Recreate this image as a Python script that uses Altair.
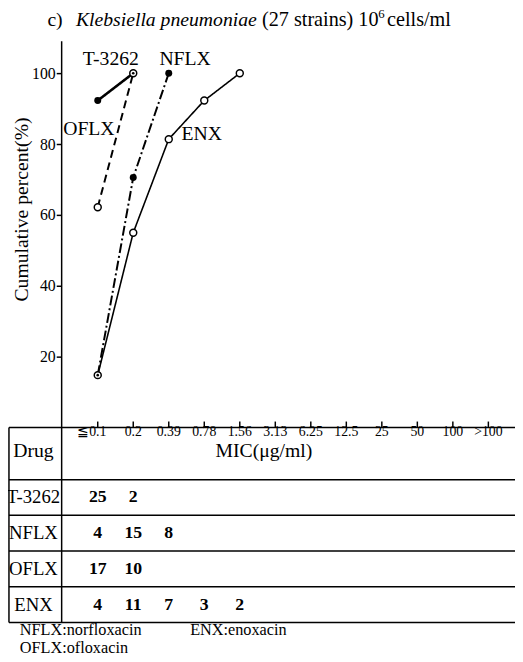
import altair as alt
import pandas as pd

# ---------------- data ----------------
mic_labels = ["≦0.1", "0.2", "0.39", "0.78", "1.56", "3.13", "6.25",
              "12.5", "25", "50", "100", ">100"]
drugs = ["T-3262", "NFLX", "OFLX", "ENX"]

counts_t3262 = [25, 2]
counts_nflx = [4, 15, 8]
counts_oflx = [17, 10]
counts_enx = [4, 11, 7, 3, 2]

pct_t3262 = [92.3, 100]
pct_nflx = [14.8, 70.6, 100]
pct_oflx = [62.2, 100]
pct_enx = [14.8, 55.0, 81.4, 92.3, 100]

y_ticks = [20, 40, 60, 80, 100]

counts = {"T-3262": counts_t3262, "NFLX": counts_nflx,
          "OFLX": counts_oflx, "ENX": counts_enx}
pcts = {"T-3262": pct_t3262, "NFLX": pct_nflx,
        "OFLX": pct_oflx, "ENX": pct_enx}

# ---------------- styles ----------------
FONT = "Liberation Serif"
line_style = {
    "T-3262": dict(dash=[1, 0], width=2.6, filled=True),
    "NFLX": dict(dash=[10, 3, 2, 3], width=2.0, filled=True),
    "OFLX": dict(dash=[8, 5], width=2.0, filled=False),
    "ENX": dict(dash=[1, 0], width=1.6, filled=False),
}
# label anchor positions (data units)
label_pos = {
    "T-3262": (0.37, 104.0),
    "NFLX": (2.46, 104.0),
    "OFLX": (-0.25, 84.2),
    "ENX": (2.93, 82.8),
}

X_MIN, X_MAX = -1.03, 11.75
Y_MIN, Y_MAX = -55.0, 109.2
TABLE_LEFT = -2.50
ROWNAME_X = -1.81
HEADER_BOTTOM = -14.7
ROW_H = (-HEADER_BOTTOM + Y_MIN) / -4.0  # positive row height

xs = alt.Scale(domain=[X_MIN, X_MAX], nice=False, zero=False)
ys = alt.Scale(domain=[Y_MIN, Y_MAX], nice=False, zero=False)

y_axis = alt.Axis(
    values=y_ticks, tickSize=5, tickWidth=1.5, tickColor="black",
    labelPadding=1, labelFont=FONT, labelFontSize=16,
    labelColor="black", domainColor="black", domainWidth=1.5,
    grid=False, title="Cumulative percent(%)", titleFont=FONT,
    titleFontSize=20, titleFontWeight="normal", titleColor="black",
    titleX=-40, titleY=171, titleAngle=270, titleAlign="center",
    titleBaseline="middle")


def X(f="x"):
    return alt.X(f, type="quantitative", scale=xs, axis=None)


def Y(f="y"):
    return alt.Y(f, type="quantitative", scale=ys, axis=y_axis)


layers = []

# table rules
h_lines = [0.0, HEADER_BOTTOM] + [HEADER_BOTTOM - ROW_H * (k + 1) for k in range(4)]
rules = [dict(x=TABLE_LEFT, x2=X_MAX, y=v, y2=v) for v in h_lines]
rules.append(dict(x=TABLE_LEFT, x2=TABLE_LEFT, y=0.0, y2=Y_MIN))
rules_df = pd.DataFrame(rules)
layers.append(
    alt.Chart(rules_df).mark_rule(color="black", strokeWidth=1.5).encode(
        x=X(), x2="x2", y=Y(), y2="y2")
)

# x ticks (pointing up) and labels
tick_df = pd.DataFrame({"x": list(range(len(mic_labels))),
                        "y": [0.0] * len(mic_labels),
                        "y2": [1.7] * len(mic_labels),
                        "lab": mic_labels})
layers.append(
    alt.Chart(tick_df).mark_rule(color="black", strokeWidth=1.5).encode(
        x=X(), y=Y(), y2="y2")
)
layers.append(
    alt.Chart(tick_df.iloc[:1]).mark_text(
        font=FONT, fontSize=14, baseline="middle", align="center", dy=5,
        dx=-6, color="black").encode(x=X(), y=Y(), text="lab")
)
layers.append(
    alt.Chart(tick_df.iloc[1:]).mark_text(
        font=FONT, fontSize=14, baseline="middle", align="center", dy=5,
        color="black").encode(x=X(), y=Y(), text="lab")
)

# header texts
hdr_df = pd.DataFrame({"x": [4.68, ROWNAME_X], "y": [-6.5, -6.5],
                       "t": ["MIC(μg/ml)", "Drug"]})
layers.append(
    alt.Chart(hdr_df).mark_text(font=FONT, fontSize=20, baseline="middle",
                                align="center", color="black").encode(
        x=X(), y=Y(), text="t")
)

# row names and counts
row_rows, cnt_rows = [], []
for r, d in enumerate(drugs):
    yc = HEADER_BOTTOM - ROW_H * (r + 0.5)
    row_rows.append(dict(x=ROWNAME_X, y=yc, t=d))
    for i, c in enumerate(counts[d]):
        cnt_rows.append(dict(x=i, y=yc, t=str(c)))
layers.append(
    alt.Chart(pd.DataFrame(row_rows)).mark_text(
        font=FONT, fontSize=19, baseline="middle", align="center",
        color="black").encode(x=X(), y=Y(), text="t")
)
layers.append(
    alt.Chart(pd.DataFrame(cnt_rows)).mark_text(
        font=FONT, fontSize=18, baseline="middle", align="center",
        fontWeight="bold", color="black").encode(x=X(), y=Y(), text="t")
)

# lines
pt_rows = []
for d in drugs:
    st = line_style[d]
    df = pd.DataFrame({"x": list(range(len(pcts[d]))), "y": pcts[d]})
    layers.append(
        alt.Chart(df).mark_line(color="black", strokeWidth=st["width"],
                                strokeDash=st["dash"]).encode(x=X(), y=Y())
    )
    for i, v in enumerate(pcts[d]):
        pt_rows.append(dict(x=i, y=v, d=d, filled=st["filled"]))
pt_df = pd.DataFrame(pt_rows)

layers.append(
    alt.Chart(pt_df[pt_df["filled"]]).mark_point(
        shape="circle", filled=True, color="black", size=50, opacity=1).encode(
        x=X(), y=Y())
)
layers.append(
    alt.Chart(pt_df[~pt_df["filled"]]).mark_point(
        shape="circle", filled=True, fill="white", stroke="black",
        strokeWidth=1.5, size=50, opacity=1).encode(x=X(), y=Y())
)
layers.append(
    alt.Chart(pt_df[pt_df["filled"]]).mark_point(
        shape="circle", filled=True, color="black", size=7, opacity=1).encode(
        x=X(), y=Y())
)

# series labels
lab_df = pd.DataFrame([dict(x=label_pos[d][0], y=label_pos[d][1], t=d) for d in drugs])
layers.append(
    alt.Chart(lab_df).mark_text(font=FONT, fontSize=20, baseline="middle",
                                align="center", color="black").encode(
        x=X(), y=Y(), text="t")
)

# title (pieces)
one = pd.DataFrame({"a": [0]})
title_parts = [("c)", -14, -15, 20, "normal"),
               ("Klebsiella pneumoniae", 15, -15, 20, "italic"),
               ("(27 strains) 10", 204, -15, 20.5, "normal"),
               ("6", 322, -23, 13, "normal"),
               ("cells/ml", 331, -15, 20.5, "normal")]
for txt, px, py, fs, style in title_parts:
    layers.append(
        alt.Chart(one).mark_text(font=FONT, fontSize=fs, fontStyle=style,
                                 align="left", baseline="alphabetic",
                                 color="black", text=txt).encode(
            x=alt.value(px), y=alt.value(py))
    )

# footnotes
foot_parts = [("NFLX:norfloxacin", -42, 604),
              ("ENX:enoxacin", 131, 604),
              ("OFLX:ofloxacin", -42, 622)]
for txt, px, py in foot_parts:
    layers.append(
        alt.Chart(one).mark_text(font=FONT, fontSize=16.5, align="left",
                                 baseline="alphabetic", color="black",
                                 text=txt).encode(
            x=alt.value(px), y=alt.value(py))
    )

chart = alt.layer(*layers).properties(
    width=461, height=591,
    autosize=alt.AutoSizeParams(type="none"),
    padding={"left": 54, "top": 28, "right": 0, "bottom": 34},
).configure_view(stroke=None)

chart.save("out.html", embed_options={"renderer": "svg", "actions": False})
